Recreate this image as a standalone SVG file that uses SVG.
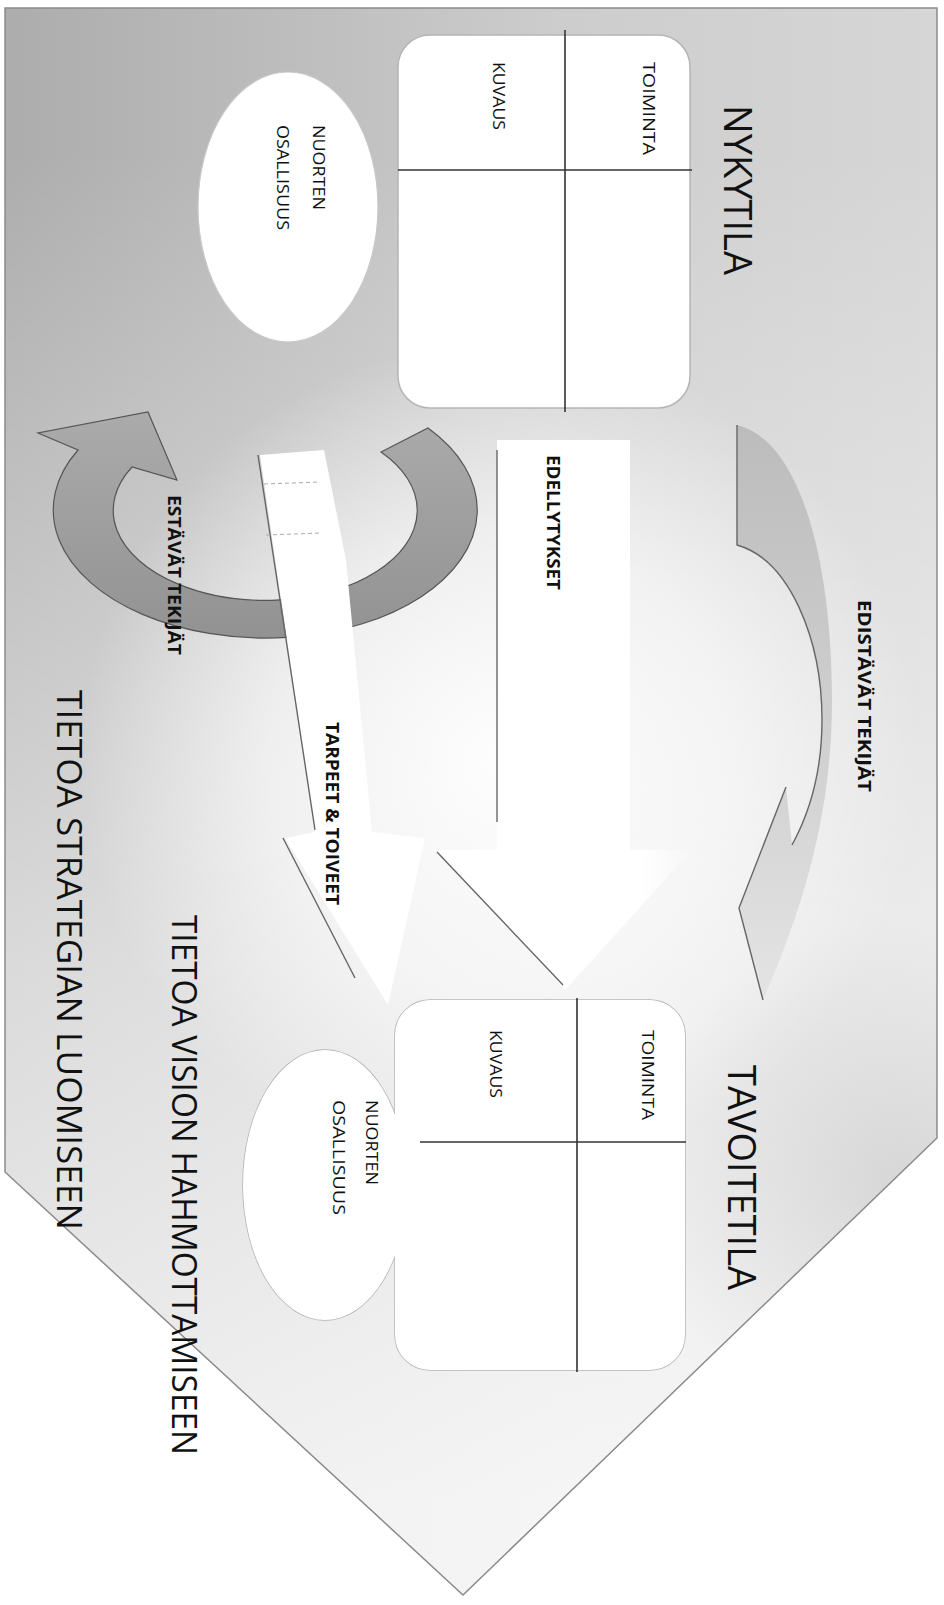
<svg xmlns="http://www.w3.org/2000/svg" width="944" height="1605" viewBox="0 0 944 1605">
<style>
.lbl{font-family:"Open Sans","Liberation Sans",sans-serif;fill:#111;}
.small{font-size:16px;}
.bold{font-size:17px;font-weight:bold;}
.big{font-size:38px;}
.title{font-size:35px;}
.div{stroke:#333;stroke-width:1.6;fill:none;}
.edge{stroke:#666;stroke-width:1.4;fill:none;}
.boxfill{fill:#fff;stroke:none;}
.boxline{fill:none;stroke:#b5b5b5;stroke-width:1.5;}
</style>
<defs>
<linearGradient id="bg" gradientUnits="userSpaceOnUse" x1="0" y1="0" x2="937" y2="0">
<stop offset="0" stop-color="#acacac"/>
<stop offset="0.6" stop-color="#cdcdcd"/>
<stop offset="1" stop-color="#d6d6d6"/>
</linearGradient>
<linearGradient id="fade" gradientUnits="userSpaceOnUse" x1="0" y1="150" x2="0" y2="1500">
<stop offset="0" stop-color="#fff" stop-opacity="0"/>
<stop offset="0.6" stop-color="#fff" stop-opacity="0.55"/>
<stop offset="1" stop-color="#fff" stop-opacity="0.8"/>
</linearGradient>
<radialGradient id="glow" gradientUnits="userSpaceOnUse" cx="500" cy="760" r="420">
<stop offset="0" stop-color="#fff" stop-opacity="0.95"/>
<stop offset="0.55" stop-color="#fff" stop-opacity="0.6"/>
<stop offset="1" stop-color="#fff" stop-opacity="0"/>
</radialGradient>
<radialGradient id="shade" gradientUnits="userSpaceOnUse" cx="900" cy="1180" r="260">
<stop offset="0" stop-color="#b8b8b8" stop-opacity="0.45"/>
<stop offset="1" stop-color="#b8b8b8" stop-opacity="0"/>
</radialGradient>
<linearGradient id="ringg" x1="0" y1="0" x2="0" y2="1">
<stop offset="0" stop-color="#ababab"/>
<stop offset="1" stop-color="#929292"/>
</linearGradient>
<linearGradient id="crg" x1="0" y1="0" x2="0" y2="1">
<stop offset="0" stop-color="#bcbcbc"/>
<stop offset="0.6" stop-color="#d2d2d2"/>
<stop offset="1" stop-color="#e4e4e4"/>
</linearGradient>
<linearGradient id="wg" x1="0" y1="0" x2="1" y2="0">
<stop offset="0" stop-color="#fff"/>
<stop offset="0.8" stop-color="#fff"/>
<stop offset="1" stop-color="#f6f6f6"/>
</linearGradient>
</defs>

<g id="background">
<polygon points="5,8 937,8 937,1138 463,1595 5,1172" fill="url(#bg)"/>
<polygon points="5,8 937,8 937,1138 463,1595 5,1172" fill="url(#fade)"/>
<polygon points="5,8 937,8 937,1138 463,1595 5,1172" fill="url(#glow)"/>
<polygon points="5,8 937,8 937,1138 463,1595 5,1172" fill="url(#shade)" stroke="#8a8a8a" stroke-width="1.5"/>
</g>

<g id="connectors">
<g id="ring-arrow">
<path d="M428,428 A212,128 0 1,1 78,450 L38,433 L148,412 L177,480 L132,467 A152,90 0 1,0 381,452 Z" fill="url(#ringg)" stroke="#555" stroke-width="1.2"/>
</g>
<g id="tarpeet-arrow">
<polygon points="260,455 324,450 346,560 372,832 425,838 388,1005 285,838 315,832" fill="#fff"/>
<path class="edge" d="M258,455 L315,830"/>
<path class="edge" d="M283,838 L355,978"/>
<path d="M264,484 L320,482 M266,535 L322,533" stroke="#aaa" stroke-width="1" stroke-dasharray="4,3" fill="none"/>
</g>
<g id="edellytykset-arrow">
<polygon points="497,440 630,440 630,850 692,850 565,990 437,850 497,850" fill="url(#wg)"/>
<path class="edge" d="M497,450 V822"/>
<path class="edge" d="M437,852 L563,985"/>
</g>
<g id="edistavat-arrow">
<path d="M737,425 L737,545 C790,560 822,640 822,720 C822,770 810,812 792,845 L786,787 L739,908 L763,1000 C800,915 832,820 832,700 C832,560 800,440 737,425 Z" fill="url(#crg)"/>
<path class="edge" d="M737,425 L737,545 C790,560 822,640 822,720 C822,770 810,812 792,845"/>
<path class="edge" d="M786,787 L739,908 L763,1000"/>
</g>
</g>

<g id="nykytila">
<rect class="boxfill" x="398" y="35" width="292" height="373" rx="32"/>
<rect class="boxline" x="398" y="35" width="292" height="373" rx="32"/>
<line class="div" x1="565" y1="30" x2="565" y2="412"/>
<line class="div" x1="398" y1="170" x2="692" y2="170"/>
<text class="lbl big" transform="translate(724,105) rotate(90)" textLength="170" lengthAdjust="spacingAndGlyphs">NYKYTILA</text>
<text class="lbl small" transform="translate(643,62) rotate(90)" textLength="93" lengthAdjust="spacingAndGlyphs">TOIMINTA</text>
<text class="lbl small" transform="translate(493,62) rotate(90)" textLength="68" lengthAdjust="spacingAndGlyphs">KUVAUS</text>
</g>

<g id="nuorten-nykytila">
<ellipse cx="288" cy="207" rx="90" ry="135" fill="#fff" stroke="#c8c8c8" stroke-width="1.2"/>
<text class="lbl small" transform="translate(313,125) rotate(90)" textLength="85" lengthAdjust="spacingAndGlyphs">NUORTEN</text>
<text class="lbl small" transform="translate(277,125) rotate(90)" textLength="105" lengthAdjust="spacingAndGlyphs">OSALLISUUS</text>
</g>

<g id="tavoitetila">
<ellipse cx="325" cy="1185" rx="82" ry="135" fill="none" stroke="#b0b0b0" stroke-width="1.5"/>
<rect class="boxline" x="395" y="1000" width="290" height="370" rx="35"/>
<ellipse cx="325" cy="1185" rx="82" ry="135" fill="#fff"/>
<rect class="boxfill" x="395" y="1000" width="290" height="370" rx="35"/>
<line class="div" x1="577" y1="998" x2="577" y2="1372"/>
<line class="div" x1="420" y1="1142" x2="686" y2="1142"/>
<text class="lbl big" transform="translate(728,1065) rotate(90)" textLength="225" lengthAdjust="spacingAndGlyphs">TAVOITETILA</text>
<text class="lbl small" transform="translate(642,1030) rotate(90)" textLength="90" lengthAdjust="spacingAndGlyphs">TOIMINTA</text>
<text class="lbl small" transform="translate(490,1030) rotate(90)" textLength="68" lengthAdjust="spacingAndGlyphs">KUVAUS</text>
<text class="lbl small" transform="translate(366,1100) rotate(90)" textLength="85" lengthAdjust="spacingAndGlyphs">NUORTEN</text>
<text class="lbl small" transform="translate(333,1100) rotate(90)" textLength="115" lengthAdjust="spacingAndGlyphs">OSALLISUUS</text>
</g>

<g id="labels">
<text class="lbl bold" transform="translate(547,455) rotate(90)" textLength="135" lengthAdjust="spacingAndGlyphs">EDELLYTYKSET</text>
<text class="lbl bold" transform="translate(168,495) rotate(90)" textLength="160" lengthAdjust="spacingAndGlyphs">ESTÄVÄT TEKIJÄT</text>
<text class="lbl bold" transform="translate(326,722) rotate(90)" textLength="183" lengthAdjust="spacingAndGlyphs">TARPEET &amp; TOIVEET</text>
<text class="lbl bold" transform="translate(858,600) rotate(90)" textLength="192" lengthAdjust="spacingAndGlyphs">EDISTÄVÄT TEKIJÄT</text>
<text class="lbl title" transform="translate(172,915) rotate(90)" textLength="540" lengthAdjust="spacingAndGlyphs">TIETOA VISION HAHMOTTAMISEEN</text>
<text class="lbl title" transform="translate(57,690) rotate(90)" textLength="540" lengthAdjust="spacingAndGlyphs">TIETOA STRATEGIAN LUOMISEEN</text>
</g>
</svg>
